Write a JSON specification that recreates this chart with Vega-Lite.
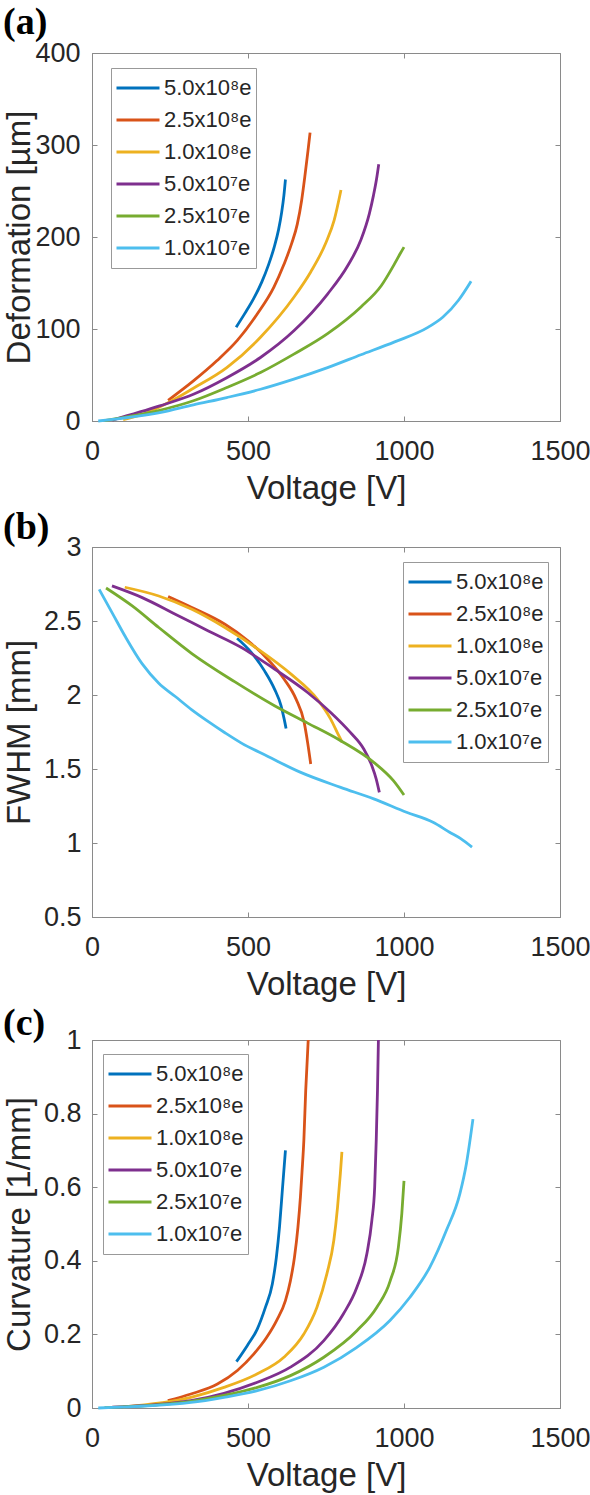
{
  "$schema": "https://vega.github.io/schema/vega-lite/v6.json",
  "padding": {"left": 2, "top": 3, "right": 0, "bottom": 0},
  "config": {
    "font": "Liberation Sans",
    "view": {"stroke": "#8a8a8a", "strokeWidth": 1},
    "axis": {"grid": false, "labelFlush": false, "domainColor": "#8a8a8a", "tickColor": "#8a8a8a", "tickSize": -5, "labelColor": "#262626", "titleColor": "#262626", "labelFontSize": 27, "titleFontSize": 33, "labelFont": "Liberation Sans", "titleFont": "Liberation Sans", "titleFontWeight": "normal"},
    "legend": {"orient": "none", "title": null, "symbolType": "stroke", "symbolSize": 1849, "symbolStrokeWidth": 3, "labelFontSize": 22, "labelFont": "Liberation Sans", "labelColor": "#262626", "labelOffset": 3, "padding": 4, "strokeColor": "#999999", "fillColor": "white", "clipHeight": 32, "rowPadding": 0, "labelLimit": 0},
    "title": {"font": "Liberation Serif", "fontSize": 38, "fontWeight": "bold", "color": "black", "anchor": "start", "frame": "bounds", "baseline": "alphabetic"},
    "line": {"interpolate": "monotone"}
  },
  "datasets": {
    "defo": [
      {"s": "5.0x10⁸e", "v": 462, "y": 102}, {"s": "5.0x10⁸e", "v": 490, "y": 117}, {"s": "5.0x10⁸e", "v": 518, "y": 133}, {"s": "5.0x10⁸e", "v": 544, "y": 151}, {"s": "5.0x10⁸e", "v": 566, "y": 170}, {"s": "5.0x10⁸e", "v": 584, "y": 189}, {"s": "5.0x10⁸e", "v": 598, "y": 208}, {"s": "5.0x10⁸e", "v": 608, "y": 227}, {"s": "5.0x10⁸e", "v": 615, "y": 245}, {"s": "5.0x10⁸e", "v": 620, "y": 262.5},
      {"s": "2.5x10⁸e", "v": 244, "y": 22.5}, {"s": "2.5x10⁸e", "v": 325, "y": 43.6}, {"s": "2.5x10⁸e", "v": 400, "y": 65.5}, {"s": "2.5x10⁸e", "v": 465, "y": 87.3}, {"s": "2.5x10⁸e", "v": 529, "y": 116}, {"s": "2.5x10⁸e", "v": 583, "y": 145.5}, {"s": "2.5x10⁸e", "v": 615, "y": 170}, {"s": "2.5x10⁸e", "v": 640, "y": 193}, {"s": "2.5x10⁸e", "v": 658, "y": 214}, {"s": "2.5x10⁸e", "v": 672, "y": 240}, {"s": "2.5x10⁸e", "v": 683, "y": 268}, {"s": "2.5x10⁸e", "v": 692, "y": 293}, {"s": "2.5x10⁸e", "v": 699, "y": 313.5},
      {"s": "1.0x10⁸e", "v": 100, "y": 1.5}, {"s": "1.0x10⁸e", "v": 163, "y": 7.3}, {"s": "1.0x10⁸e", "v": 239, "y": 19}, {"s": "1.0x10⁸e", "v": 325, "y": 35.6}, {"s": "1.0x10⁸e", "v": 432, "y": 58}, {"s": "1.0x10⁸e", "v": 540, "y": 91}, {"s": "1.0x10⁸e", "v": 647, "y": 134.5}, {"s": "1.0x10⁸e", "v": 701, "y": 162}, {"s": "1.0x10⁸e", "v": 750, "y": 194}, {"s": "1.0x10⁸e", "v": 776, "y": 218}, {"s": "1.0x10⁸e", "v": 798, "y": 251},
      {"s": "5.0x10⁷e", "v": 65, "y": 1}, {"s": "5.0x10⁷e", "v": 217, "y": 16.4}, {"s": "5.0x10⁷e", "v": 325, "y": 29}, {"s": "5.0x10⁷e", "v": 432, "y": 47}, {"s": "5.0x10⁷e", "v": 540, "y": 69}, {"s": "5.0x10⁷e", "v": 647, "y": 98}, {"s": "5.0x10⁷e", "v": 755, "y": 138}, {"s": "5.0x10⁷e", "v": 820, "y": 169}, {"s": "5.0x10⁷e", "v": 862, "y": 197}, {"s": "5.0x10⁷e", "v": 889, "y": 225.5}, {"s": "5.0x10⁷e", "v": 902, "y": 245}, {"s": "5.0x10⁷e", "v": 912, "y": 263}, {"s": "5.0x10⁷e", "v": 919, "y": 279},
      {"s": "2.5x10⁷e", "v": 40, "y": 0.5}, {"s": "2.5x10⁷e", "v": 217, "y": 11.6}, {"s": "2.5x10⁷e", "v": 325, "y": 22}, {"s": "2.5x10⁷e", "v": 432, "y": 36.4}, {"s": "2.5x10⁷e", "v": 540, "y": 52.7}, {"s": "2.5x10⁷e", "v": 647, "y": 72.7}, {"s": "2.5x10⁷e", "v": 755, "y": 95}, {"s": "2.5x10⁷e", "v": 862, "y": 124}, {"s": "2.5x10⁷e", "v": 927, "y": 147}, {"s": "2.5x10⁷e", "v": 970, "y": 171}, {"s": "2.5x10⁷e", "v": 988, "y": 182}, {"s": "2.5x10⁷e", "v": 1000, "y": 189},
      {"s": "1.0x10⁷e", "v": 20, "y": 0}, {"s": "1.0x10⁷e", "v": 217, "y": 9}, {"s": "1.0x10⁷e", "v": 325, "y": 17.5}, {"s": "1.0x10⁷e", "v": 432, "y": 25.5}, {"s": "1.0x10⁷e", "v": 540, "y": 34.5}, {"s": "1.0x10⁷e", "v": 647, "y": 45.5}, {"s": "1.0x10⁷e", "v": 755, "y": 58}, {"s": "1.0x10⁷e", "v": 862, "y": 72}, {"s": "1.0x10⁷e", "v": 970, "y": 86}, {"s": "1.0x10⁷e", "v": 1078, "y": 102}, {"s": "1.0x10⁷e", "v": 1125, "y": 113}, {"s": "1.0x10⁷e", "v": 1174, "y": 131}, {"s": "1.0x10⁷e", "v": 1215, "y": 152}
    ],
    "fwhm": [
      {"s": "5.0x10⁸e", "v": 465, "y": 2.384}, {"s": "5.0x10⁸e", "v": 511, "y": 2.287}, {"s": "5.0x10⁸e", "v": 553, "y": 2.163}, {"s": "5.0x10⁸e", "v": 585, "y": 2.04}, {"s": "5.0x10⁸e", "v": 606, "y": 1.927}, {"s": "5.0x10⁸e", "v": 616, "y": 1.837}, {"s": "5.0x10⁸e", "v": 622, "y": 1.774},
      {"s": "2.5x10⁸e", "v": 244, "y": 2.665}, {"s": "2.5x10⁸e", "v": 320, "y": 2.591}, {"s": "2.5x10⁸e", "v": 426, "y": 2.478}, {"s": "2.5x10⁸e", "v": 500, "y": 2.366}, {"s": "2.5x10⁸e", "v": 563, "y": 2.242}, {"s": "2.5x10⁸e", "v": 616, "y": 2.107}, {"s": "2.5x10⁸e", "v": 654, "y": 1.972}, {"s": "2.5x10⁸e", "v": 680, "y": 1.815}, {"s": "2.5x10⁸e", "v": 691, "y": 1.68}, {"s": "2.5x10⁸e", "v": 701, "y": 1.534},
      {"s": "1.0x10⁸e", "v": 105, "y": 2.728}, {"s": "1.0x10⁸e", "v": 214, "y": 2.669}, {"s": "1.0x10⁸e", "v": 320, "y": 2.579}, {"s": "1.0x10⁸e", "v": 426, "y": 2.456}, {"s": "1.0x10⁸e", "v": 532, "y": 2.31}, {"s": "1.0x10⁸e", "v": 638, "y": 2.141}, {"s": "1.0x10⁸e", "v": 722, "y": 1.972}, {"s": "1.0x10⁸e", "v": 765, "y": 1.837}, {"s": "1.0x10⁸e", "v": 791, "y": 1.725}, {"s": "1.0x10⁸e", "v": 802, "y": 1.68},
      {"s": "5.0x10⁷e", "v": 64, "y": 2.737}, {"s": "5.0x10⁷e", "v": 161, "y": 2.658}, {"s": "5.0x10⁷e", "v": 267, "y": 2.546}, {"s": "5.0x10⁷e", "v": 373, "y": 2.433}, {"s": "5.0x10⁷e", "v": 479, "y": 2.321}, {"s": "5.0x10⁷e", "v": 585, "y": 2.175}, {"s": "5.0x10⁷e", "v": 691, "y": 2.017}, {"s": "5.0x10⁷e", "v": 765, "y": 1.882}, {"s": "5.0x10⁷e", "v": 828, "y": 1.747}, {"s": "5.0x10⁷e", "v": 871, "y": 1.635}, {"s": "5.0x10⁷e", "v": 897, "y": 1.522}, {"s": "5.0x10⁷e", "v": 911, "y": 1.432}, {"s": "5.0x10⁷e", "v": 921, "y": 1.342},
      {"s": "2.5x10⁷e", "v": 45, "y": 2.723}, {"s": "2.5x10⁷e", "v": 129, "y": 2.602}, {"s": "2.5x10⁷e", "v": 214, "y": 2.456}, {"s": "2.5x10⁷e", "v": 320, "y": 2.28}, {"s": "2.5x10⁷e", "v": 457, "y": 2.09}, {"s": "2.5x10⁷e", "v": 585, "y": 1.927}, {"s": "2.5x10⁷e", "v": 691, "y": 1.81}, {"s": "2.5x10⁷e", "v": 797, "y": 1.691}, {"s": "2.5x10⁷e", "v": 903, "y": 1.545}, {"s": "2.5x10⁷e", "v": 966, "y": 1.421}, {"s": "2.5x10⁷e", "v": 1000, "y": 1.324},
      {"s": "1.0x10⁷e", "v": 23, "y": 2.714}, {"s": "1.0x10⁷e", "v": 66, "y": 2.55}, {"s": "1.0x10⁷e", "v": 108, "y": 2.39}, {"s": "1.0x10⁷e", "v": 161, "y": 2.21}, {"s": "1.0x10⁷e", "v": 214, "y": 2.08}, {"s": "1.0x10⁷e", "v": 267, "y": 1.99}, {"s": "1.0x10⁷e", "v": 320, "y": 1.9}, {"s": "1.0x10⁷e", "v": 373, "y": 1.82}, {"s": "1.0x10⁷e", "v": 426, "y": 1.745}, {"s": "1.0x10⁷e", "v": 479, "y": 1.675}, {"s": "1.0x10⁷e", "v": 564, "y": 1.585}, {"s": "1.0x10⁷e", "v": 669, "y": 1.477}, {"s": "1.0x10⁷e", "v": 797, "y": 1.376}, {"s": "1.0x10⁷e", "v": 903, "y": 1.298}, {"s": "1.0x10⁷e", "v": 1008, "y": 1.208}, {"s": "1.0x10⁷e", "v": 1093, "y": 1.14}, {"s": "1.0x10⁷e", "v": 1146, "y": 1.073}, {"s": "1.0x10⁷e", "v": 1183, "y": 1.028}, {"s": "1.0x10⁷e", "v": 1218, "y": 0.972}
    ],
    "curv": [
      {"s": "5.0x10⁸e", "v": 463, "y": 0.126}, {"s": "5.0x10⁸e", "v": 498, "y": 0.17}, {"s": "5.0x10⁸e", "v": 530, "y": 0.215}, {"s": "5.0x10⁸e", "v": 556, "y": 0.274}, {"s": "5.0x10⁸e", "v": 578, "y": 0.337}, {"s": "5.0x10⁸e", "v": 591, "y": 0.41}, {"s": "5.0x10⁸e", "v": 601, "y": 0.492}, {"s": "5.0x10⁸e", "v": 610, "y": 0.591}, {"s": "5.0x10⁸e", "v": 620, "y": 0.7},
      {"s": "2.5x10⁸e", "v": 243, "y": 0.02}, {"s": "2.5x10⁸e", "v": 317, "y": 0.038}, {"s": "2.5x10⁸e", "v": 402, "y": 0.065}, {"s": "2.5x10⁸e", "v": 466, "y": 0.102}, {"s": "2.5x10⁸e", "v": 519, "y": 0.147}, {"s": "2.5x10⁸e", "v": 560, "y": 0.192}, {"s": "2.5x10⁸e", "v": 592, "y": 0.238}, {"s": "2.5x10⁸e", "v": 620, "y": 0.292}, {"s": "2.5x10⁸e", "v": 636, "y": 0.346}, {"s": "2.5x10⁸e", "v": 649, "y": 0.41}, {"s": "2.5x10⁸e", "v": 660, "y": 0.491}, {"s": "2.5x10⁸e", "v": 668, "y": 0.573}, {"s": "2.5x10⁸e", "v": 673, "y": 0.64}, {"s": "2.5x10⁸e", "v": 679, "y": 0.727}, {"s": "2.5x10⁸e", "v": 685, "y": 0.863}, {"s": "2.5x10⁸e", "v": 693, "y": 1.0},
      {"s": "1.0x10⁸e", "v": 100, "y": 0.003}, {"s": "1.0x10⁸e", "v": 317, "y": 0.029}, {"s": "1.0x10⁸e", "v": 423, "y": 0.056}, {"s": "1.0x10⁸e", "v": 530, "y": 0.093}, {"s": "1.0x10⁸e", "v": 615, "y": 0.138}, {"s": "1.0x10⁸e", "v": 679, "y": 0.201}, {"s": "1.0x10⁸e", "v": 721, "y": 0.274}, {"s": "1.0x10⁸e", "v": 753, "y": 0.365}, {"s": "1.0x10⁸e", "v": 775, "y": 0.455}, {"s": "1.0x10⁸e", "v": 787, "y": 0.546}, {"s": "1.0x10⁸e", "v": 796, "y": 0.637}, {"s": "1.0x10⁸e", "v": 801, "y": 0.696},
      {"s": "5.0x10⁷e", "v": 65, "y": 0.002}, {"s": "5.0x10⁷e", "v": 317, "y": 0.02}, {"s": "5.0x10⁷e", "v": 423, "y": 0.04}, {"s": "5.0x10⁷e", "v": 530, "y": 0.07}, {"s": "5.0x10⁷e", "v": 636, "y": 0.111}, {"s": "5.0x10⁷e", "v": 743, "y": 0.183}, {"s": "5.0x10⁷e", "v": 806, "y": 0.256}, {"s": "5.0x10⁷e", "v": 849, "y": 0.328}, {"s": "5.0x10⁷e", "v": 881, "y": 0.419}, {"s": "5.0x10⁷e", "v": 897, "y": 0.51}, {"s": "5.0x10⁷e", "v": 906, "y": 0.6}, {"s": "5.0x10⁷e", "v": 911, "y": 0.727}, {"s": "5.0x10⁷e", "v": 915, "y": 0.863}, {"s": "5.0x10⁷e", "v": 918, "y": 1.0},
      {"s": "2.5x10⁷e", "v": 40, "y": 0.001}, {"s": "2.5x10⁷e", "v": 317, "y": 0.018}, {"s": "2.5x10⁷e", "v": 423, "y": 0.034}, {"s": "2.5x10⁷e", "v": 530, "y": 0.056}, {"s": "2.5x10⁷e", "v": 636, "y": 0.088}, {"s": "2.5x10⁷e", "v": 743, "y": 0.138}, {"s": "2.5x10⁷e", "v": 849, "y": 0.21}, {"s": "2.5x10⁷e", "v": 913, "y": 0.274}, {"s": "2.5x10⁷e", "v": 956, "y": 0.346}, {"s": "2.5x10⁷e", "v": 982, "y": 0.437}, {"s": "2.5x10⁷e", "v": 993, "y": 0.528}, {"s": "2.5x10⁷e", "v": 1000, "y": 0.617},
      {"s": "1.0x10⁷e", "v": 20, "y": 0}, {"s": "1.0x10⁷e", "v": 317, "y": 0.015}, {"s": "1.0x10⁷e", "v": 423, "y": 0.029}, {"s": "1.0x10⁷e", "v": 530, "y": 0.047}, {"s": "1.0x10⁷e", "v": 636, "y": 0.074}, {"s": "1.0x10⁷e", "v": 743, "y": 0.111}, {"s": "1.0x10⁷e", "v": 849, "y": 0.165}, {"s": "1.0x10⁷e", "v": 955, "y": 0.238}, {"s": "1.0x10⁷e", "v": 1019, "y": 0.301}, {"s": "1.0x10⁷e", "v": 1083, "y": 0.383}, {"s": "1.0x10⁷e", "v": 1136, "y": 0.483}, {"s": "1.0x10⁷e", "v": 1179, "y": 0.582}, {"s": "1.0x10⁷e", "v": 1200, "y": 0.664}, {"s": "1.0x10⁷e", "v": 1221, "y": 0.785}
    ]
  },
  "align": "none",
  "spacing": 2,
  "resolve": {"scale": {"x": "independent", "y": "independent", "color": "independent"}, "legend": {"color": "independent"}},
  "vconcat": [
    {
      "width": 468, "height": 368,
      "title": {"text": "(a)", "offset": -3, "dx": 0},
      "data": {"name": "defo"},
      "layer": [
        {"mark": {"type": "line", "strokeWidth": 2.8},
         "encoding": {
           "x": {"field": "v", "type": "quantitative", "scale": {"domain": [0, 1500], "nice": false}, "axis": {"values": [0, 500, 1000, 1500], "format": "d", "title": "Voltage [V]", "labelPadding": 22, "minExtent": 44, "maxExtent": 44, "titlePadding": 7}},
           "y": {"field": "y", "type": "quantitative", "scale": {"domain": [0, 400], "nice": false}, "axis": {"values": [0, 100, 200, 300, 400], "format": "d", "title": "Deformation [µm]", "labelPadding": 17, "minExtent": 56, "maxExtent": 56, "titlePadding": 0}},
           "color": {"field": "s", "type": "nominal", "scale": {"domain": ["5.0x10⁸e", "2.5x10⁸e", "1.0x10⁸e", "5.0x10⁷e", "2.5x10⁷e", "1.0x10⁷e"], "range": ["#0072BD", "#D95319", "#EDB120", "#7E2F8E", "#77AC30", "#4DBEEE"]}, "legend": {"legendX": 19, "legendY": 15}}
         }},
        {"mark": {"type": "line", "opacity": 0},
         "encoding": {
           "x": {"field": "v", "type": "quantitative", "scale": {"domain": [0, 1500], "nice": false}, "axis": {"orient": "top", "values": [0, 500, 1000, 1500], "labels": false, "title": null, "domain": false}},
           "y": {"field": "y", "type": "quantitative", "scale": {"domain": [0, 400], "nice": false}, "axis": {"orient": "right", "values": [0, 100, 200, 300, 400], "labels": false, "title": null, "domain": false}},
           "detail": {"field": "s"}
         }}
      ],
      "resolve": {"axis": {"x": "independent", "y": "independent"}}
    },
    {
      "width": 468, "height": 370,
      "title": {"text": "(b)", "offset": -14, "dx": 0},
      "data": {"name": "fwhm"},
      "layer": [
        {"mark": {"type": "line", "strokeWidth": 2.8},
         "encoding": {
           "x": {"field": "v", "type": "quantitative", "scale": {"domain": [0, 1500], "nice": false}, "axis": {"values": [0, 500, 1000, 1500], "format": "d", "title": "Voltage [V]", "labelPadding": 22, "minExtent": 44, "maxExtent": 44, "titlePadding": 7}},
           "y": {"field": "y", "type": "quantitative", "scale": {"domain": [0.5, 3], "nice": false}, "axis": {"values": [0.5, 1, 1.5, 2, 2.5, 3], "labelExpr": "datum.value + ''", "title": "FWHM [mm]", "labelPadding": 16, "minExtent": 56, "maxExtent": 56, "titlePadding": 0}},
           "color": {"field": "s", "type": "nominal", "scale": {"domain": ["5.0x10⁸e", "2.5x10⁸e", "1.0x10⁸e", "5.0x10⁷e", "2.5x10⁷e", "1.0x10⁷e"], "range": ["#0072BD", "#D95319", "#EDB120", "#7E2F8E", "#77AC30", "#4DBEEE"]}, "legend": {"legendX": 311, "legendY": 15}}
         }},
        {"mark": {"type": "line", "opacity": 0},
         "encoding": {
           "x": {"field": "v", "type": "quantitative", "scale": {"domain": [0, 1500], "nice": false}, "axis": {"orient": "top", "values": [0, 500, 1000, 1500], "labels": false, "title": null, "domain": false}},
           "y": {"field": "y", "type": "quantitative", "scale": {"domain": [0.5, 3], "nice": false}, "axis": {"orient": "right", "values": [0.5, 1, 1.5, 2, 2.5, 3], "labels": false, "title": null, "domain": false}},
           "detail": {"field": "s"}
         }}
      ],
      "resolve": {"axis": {"x": "independent", "y": "independent"}}
    },
    {
      "width": 468, "height": 368,
      "title": {"text": "(c)", "offset": -17, "dx": 0},
      "data": {"name": "curv"},
      "layer": [
        {"mark": {"type": "line", "strokeWidth": 2.8},
         "encoding": {
           "x": {"field": "v", "type": "quantitative", "scale": {"domain": [0, 1500], "nice": false}, "axis": {"values": [0, 500, 1000, 1500], "format": "d", "title": "Voltage [V]", "labelPadding": 22, "minExtent": 44, "maxExtent": 44, "titlePadding": 7}},
           "y": {"field": "y", "type": "quantitative", "scale": {"domain": [0, 1], "nice": false}, "axis": {"values": [0, 0.2, 0.4, 0.6, 0.8, 1], "labelExpr": "datum.value + ''", "title": "Curvature [1/mm]", "labelPadding": 16, "minExtent": 56, "maxExtent": 56, "titlePadding": 0}},
           "color": {"field": "s", "type": "nominal", "scale": {"domain": ["5.0x10⁸e", "2.5x10⁸e", "1.0x10⁸e", "5.0x10⁷e", "2.5x10⁷e", "1.0x10⁷e"], "range": ["#0072BD", "#D95319", "#EDB120", "#7E2F8E", "#77AC30", "#4DBEEE"]}, "legend": {"legendX": 11, "legendY": 14}}
         }},
        {"mark": {"type": "line", "opacity": 0},
         "encoding": {
           "x": {"field": "v", "type": "quantitative", "scale": {"domain": [0, 1500], "nice": false}, "axis": {"orient": "top", "values": [0, 500, 1000, 1500], "labels": false, "title": null, "domain": false}},
           "y": {"field": "y", "type": "quantitative", "scale": {"domain": [0, 1], "nice": false}, "axis": {"orient": "right", "values": [0, 0.2, 0.4, 0.6, 0.8, 1], "labels": false, "title": null, "domain": false}},
           "detail": {"field": "s"}
         }}
      ],
      "resolve": {"axis": {"x": "independent", "y": "independent"}}
    }
  ]
}
